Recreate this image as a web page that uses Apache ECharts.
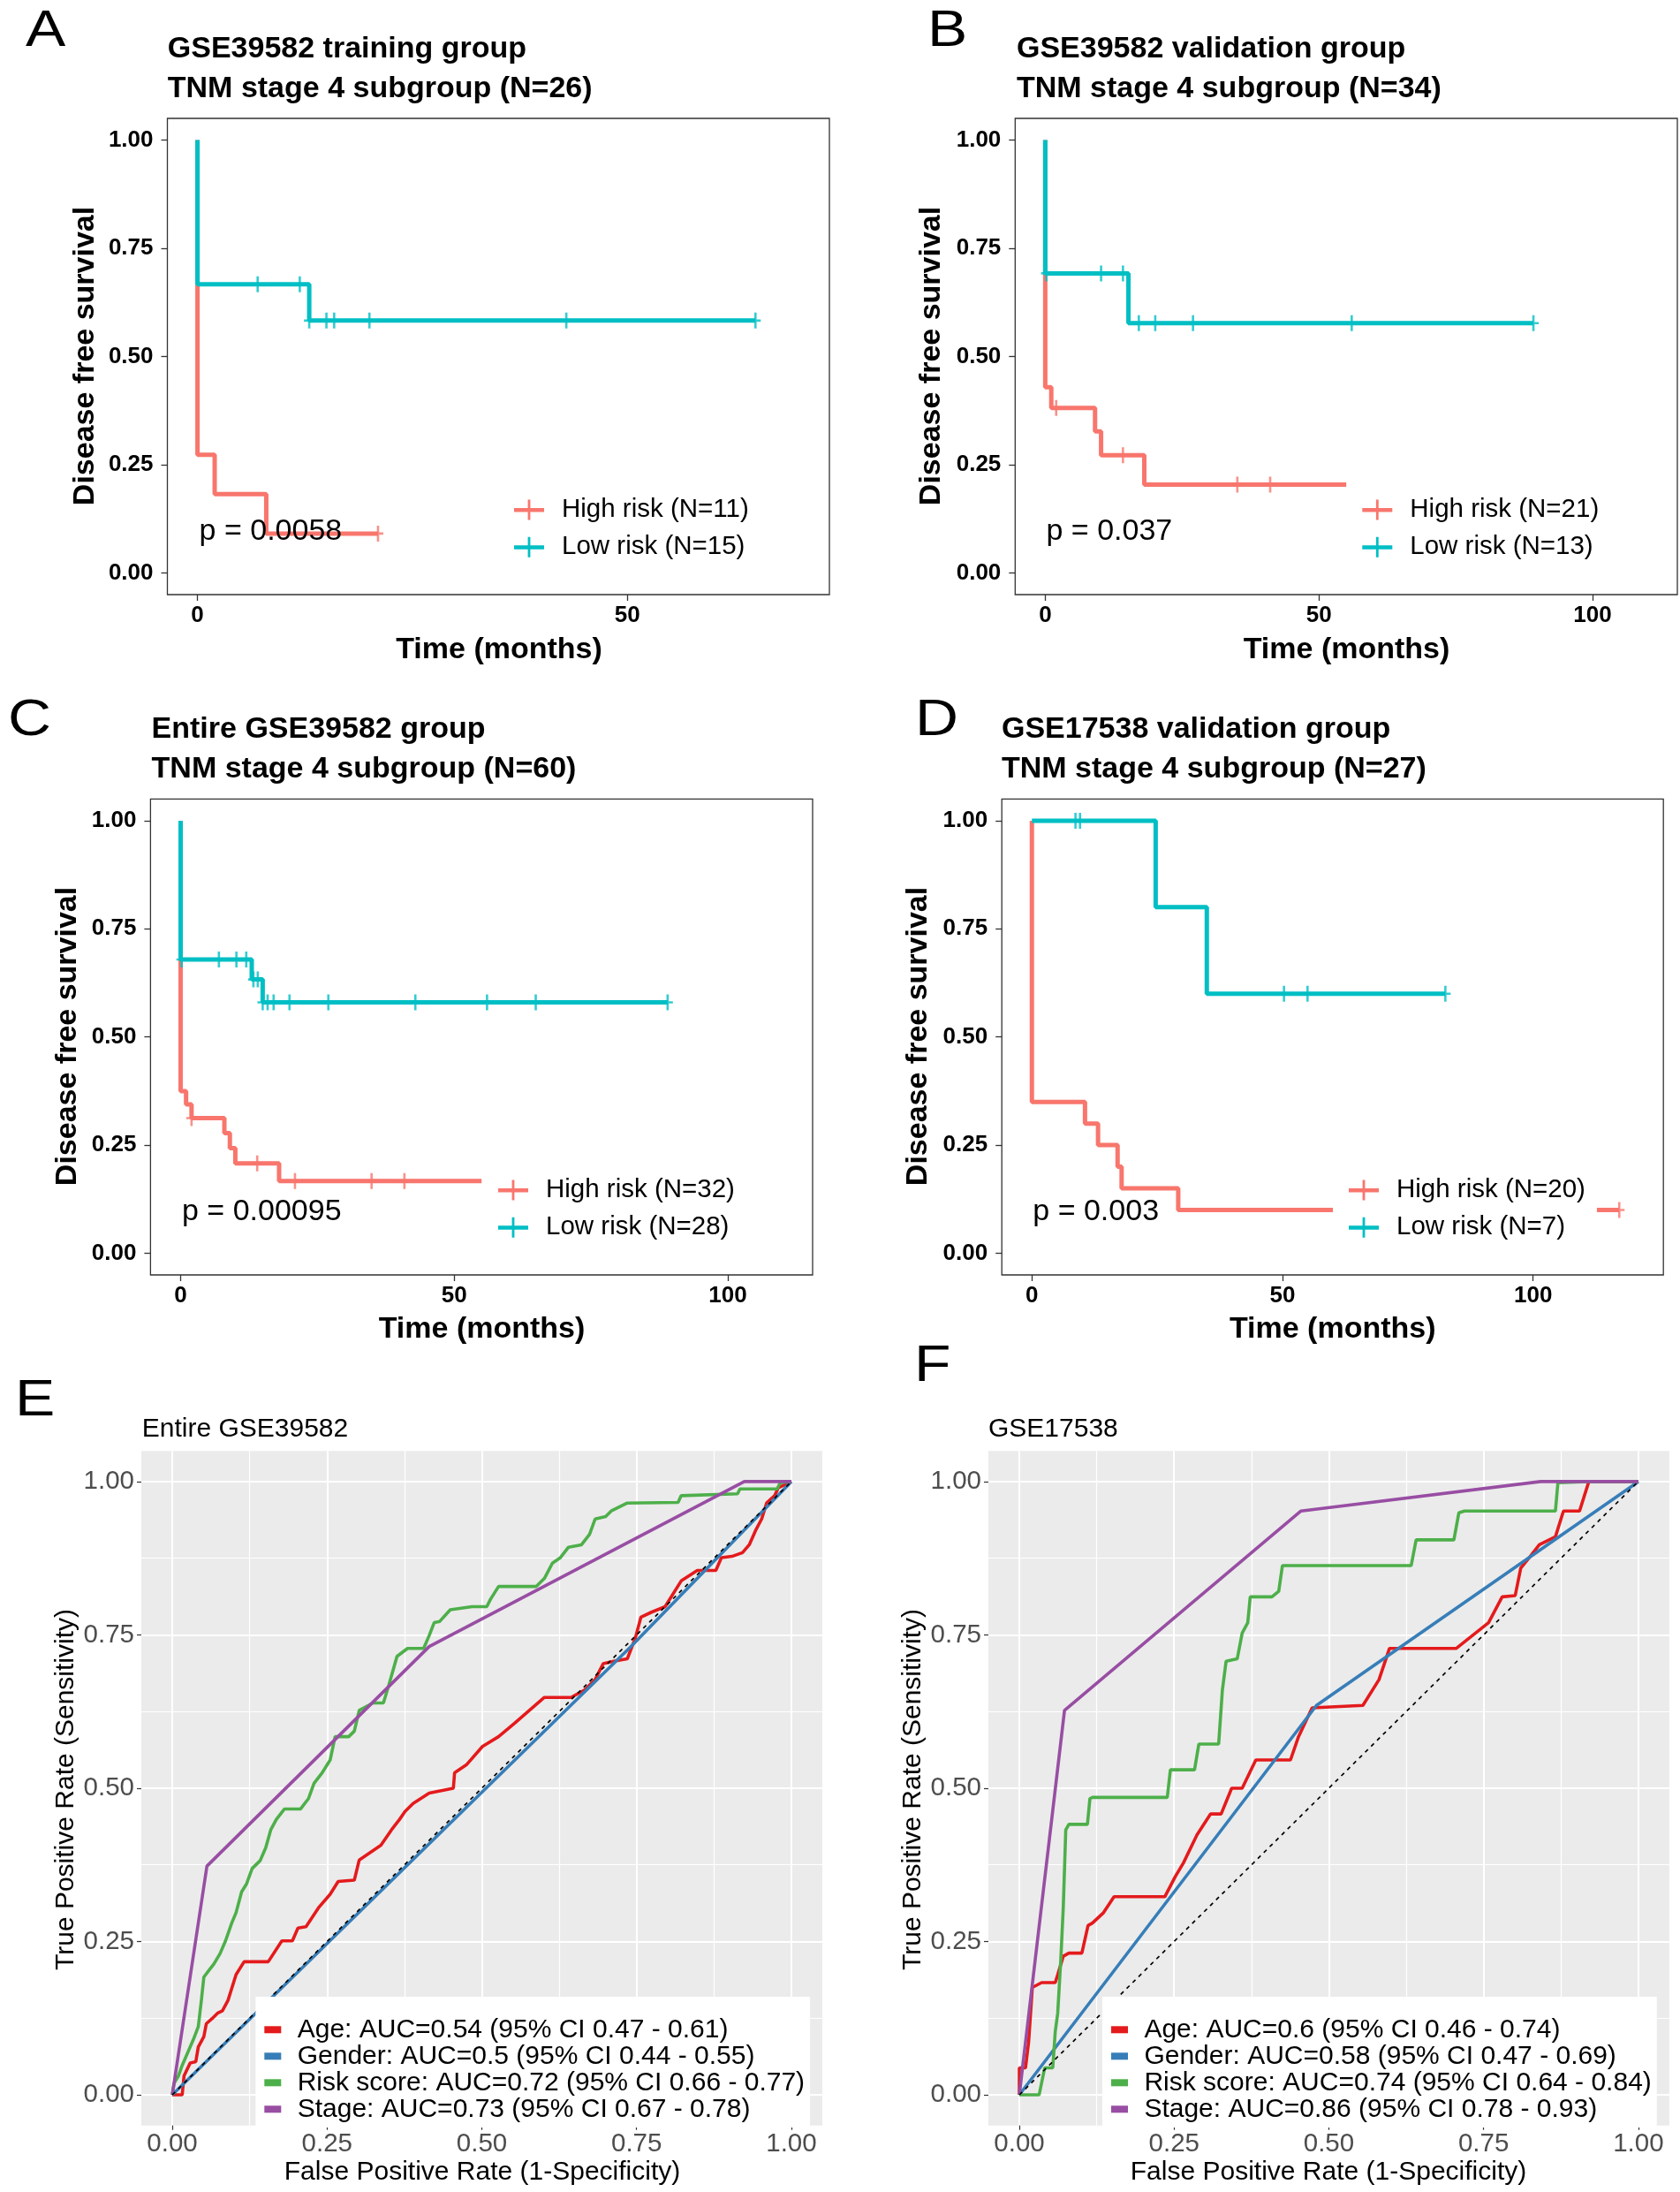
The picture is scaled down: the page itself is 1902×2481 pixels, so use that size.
<!DOCTYPE html>
<html><head><meta charset="utf-8">
<script src="https://cdn.jsdelivr.net/npm/echarts@6/dist/echarts.min.js"></script>
<style>html,body{margin:0;padding:0;background:#fff}#c{width:1902px;height:2481px}</style>
</head><body><div id="c"></div>
<script>
// ================= DATA =================
const kmTicksY = [0, 0.25, 0.5, 0.75, 1];
const kmTicksX_A = [0, 50];
const kmTicksX_BCD = [0, 50, 100];
const rocTicks = [0, 0.25, 0.5, 0.75, 1];
const rocMinorTicks = [0.125, 0.375, 0.625, 0.875];

// --- Panel A: GSE39582 training group ---
const A_names = ['High risk (N=11)', 'Low risk (N=15)'];
const A_high = [[0, 1], [0, 0.273], [2.0, 0.182], [8.0, 0.091], [21.0, 0.091]];
const A_high_cens = [[21.0, 0.091]];
const A_low = [[0, 1], [0, 0.667], [13.0, 0.583], [64.9, 0.583]];
const A_low_cens = [[7.0, 0.667], [11.9, 0.667], [13.0, 0.583], [15.0, 0.583], [15.9, 0.583], [20.0, 0.583], [42.9, 0.583], [64.9, 0.583]];

// --- Panel B: GSE39582 validation group ---
const B_names = ['High risk (N=21)', 'Low risk (N=13)'];
const B_high = [[0, 1], [0, 0.429], [1.1, 0.381], [9.1, 0.327], [10.2, 0.272], [18.1, 0.204], [55.0, 0.204]];
const B_high_cens = [[2.0, 0.381], [14.2, 0.272], [35.1, 0.204], [41.1, 0.204]];
const B_low = [[0, 1], [0, 0.692], [15.2, 0.577], [89.2, 0.577]];
const B_low_cens = [[0.2, 0.692], [10.2, 0.692], [14.2, 0.692], [17.1, 0.577], [20.1, 0.577], [27.0, 0.577], [56.0, 0.577], [89.2, 0.577]];

// --- Panel C: Entire GSE39582 group ---
const C_names = ['High risk (N=32)', 'Low risk (N=28)'];
const C_high = [[0, 1], [0, 0.375], [1.0, 0.344], [2.0, 0.3125], [8.0, 0.278], [9.0, 0.243], [10.0, 0.208], [18.0, 0.167], [55.0, 0.167]];
const C_high_cens = [[2.0, 0.3125], [14.0, 0.208], [20.9, 0.167], [34.9, 0.167], [40.9, 0.167]];
const C_low = [[0, 1], [0, 0.679], [13.0, 0.633], [15.0, 0.580], [89.0, 0.580]];
const C_low_cens = [[0.2, 0.679], [7.0, 0.679], [10.2, 0.679], [12.0, 0.679], [13.3, 0.633], [14.1, 0.633], [15.0, 0.580], [15.9, 0.580], [17.0, 0.580], [19.9, 0.580], [27.0, 0.580], [42.9, 0.580], [56.0, 0.580], [64.9, 0.580], [89.0, 0.580]];

// --- Panel D: GSE17538 validation group ---
const D_names = ['High risk (N=20)', 'Low risk (N=7)'];
const D_high = [[0, 1], [0, 0.35], [10.6, 0.30], [13.2, 0.25], [17.1, 0.20], [17.9, 0.15], [29.2, 0.10], [117.2, 0.10]];
const D_high_cens = [[117.2, 0.10]];
const D_low = [[0, 1], [24.7, 0.8], [34.9, 0.6], [82.5, 0.6]];
const D_low_cens = [[8.7, 1], [9.6, 1], [50.3, 0.6], [55.0, 0.6], [82.5, 0.6]];

// --- Panel E: ROC Entire GSE39582 ---
const E_names = ['Age: AUC=0.54 (95% CI 0.47 - 0.61)', 'Gender: AUC=0.5 (95% CI 0.44 - 0.55)', 'Risk score: AUC=0.72 (95% CI 0.66 - 0.77)', 'Stage: AUC=0.73 (95% CI 0.67 - 0.78)'];
const E_age = [[0,0],[0.016,0],[0.019,0.031],[0.029,0.052],[0.038,0.054],[0.042,0.078],[0.051,0.095],[0.055,0.116],[0.064,0.124],[0.073,0.133],[0.081,0.137],[0.090,0.154],[0.103,0.196],[0.116,0.217],[0.155,0.217],[0.177,0.251],[0.194,0.251],[0.203,0.272],[0.216,0.274],[0.237,0.306],[0.255,0.327],[0.268,0.348],[0.294,0.350],[0.302,0.383],[0.337,0.407],[0.354,0.432],[0.367,0.449],[0.376,0.462],[0.389,0.475],[0.415,0.492],[0.454,0.500],[0.456,0.525],[0.475,0.538],[0.501,0.568],[0.527,0.584],[0.553,0.606],[0.601,0.648],[0.644,0.648],[0.666,0.660],[0.683,0.677],[0.696,0.703],[0.713,0.707],[0.735,0.711],[0.748,0.745],[0.757,0.779],[0.774,0.787],[0.796,0.796],[0.822,0.838],[0.848,0.855],[0.878,0.855],[0.887,0.876],[0.904,0.878],[0.921,0.884],[0.932,0.897],[0.943,0.922],[0.952,0.939],[0.960,0.965],[0.973,0.977],[0.979,0.990],[1,1]];
const E_gender = [[0,0],[0.74,0.73],[1,1]];
const E_risk = [[0,0],[0.003,0.019],[0.010,0.031],[0.016,0.048],[0.025,0.069],[0.034,0.090],[0.042,0.111],[0.047,0.154],[0.051,0.192],[0.060,0.204],[0.067,0.213],[0.077,0.230],[0.086,0.251],[0.096,0.280],[0.103,0.297],[0.112,0.331],[0.120,0.344],[0.129,0.369],[0.142,0.382],[0.151,0.403],[0.159,0.432],[0.168,0.449],[0.181,0.466],[0.207,0.466],[0.220,0.483],[0.229,0.508],[0.242,0.525],[0.255,0.546],[0.263,0.584],[0.285,0.584],[0.294,0.593],[0.302,0.627],[0.324,0.639],[0.341,0.639],[0.350,0.669],[0.363,0.715],[0.380,0.728],[0.406,0.728],[0.415,0.749],[0.423,0.770],[0.432,0.772],[0.449,0.791],[0.484,0.796],[0.508,0.796],[0.514,0.808],[0.527,0.829],[0.588,0.829],[0.601,0.842],[0.614,0.867],[0.627,0.876],[0.640,0.893],[0.661,0.897],[0.674,0.914],[0.683,0.939],[0.700,0.943],[0.709,0.952],[0.735,0.965],[0.817,0.966],[0.822,0.977],[0.913,0.980],[0.917,0.988],[0.977,0.988],[0.982,0.998],[1,1]];
const E_stage = [[0,0],[0.056,0.373],[0.415,0.731],[0.924,1],[1,1]];

// --- Panel F: ROC GSE17538 ---
const F_names = ['Age: AUC=0.6 (95% CI 0.46 - 0.74)', 'Gender: AUC=0.58 (95% CI 0.47 - 0.69)', 'Risk score: AUC=0.74 (95% CI 0.64 - 0.84)', 'Stage: AUC=0.86 (95% CI 0.78 - 0.93)'];
const F_age = [[0,0],[0,0.044],[0.010,0.044],[0.015,0.086],[0.021,0.175],[0.036,0.183],[0.058,0.183],[0.062,0.196],[0.071,0.226],[0.080,0.231],[0.101,0.231],[0.111,0.276],[0.118,0.280],[0.136,0.297],[0.153,0.323],[0.235,0.323],[0.252,0.356],[0.265,0.378],[0.287,0.424],[0.309,0.458],[0.326,0.458],[0.343,0.500],[0.360,0.500],[0.382,0.546],[0.438,0.546],[0.451,0.584],[0.473,0.631],[0.555,0.635],[0.581,0.677],[0.598,0.728],[0.706,0.728],[0.758,0.770],[0.780,0.812],[0.801,0.814],[0.810,0.859],[0.827,0.880],[0.840,0.897],[0.866,0.910],[0.879,0.952],[0.905,0.952],[0.920,1],[1,1]];
const F_gender = [[0,0],[0.480,0.635],[1,1]];
const F_risk = [[0,0],[0.032,0],[0.041,0.044],[0.054,0.044],[0.058,0.103],[0.062,0.133],[0.067,0.221],[0.071,0.306],[0.075,0.432],[0.080,0.441],[0.110,0.441],[0.114,0.483],[0.118,0.485],[0.239,0.485],[0.244,0.530],[0.283,0.530],[0.290,0.572],[0.322,0.572],[0.328,0.660],[0.334,0.707],[0.352,0.711],[0.360,0.753],[0.369,0.770],[0.373,0.812],[0.408,0.812],[0.419,0.821],[0.425,0.863],[0.633,0.863],[0.641,0.905],[0.702,0.905],[0.710,0.949],[0.719,0.952],[0.866,0.952],[0.870,0.998],[0.918,1],[1,1]];
const F_stage = [[0,0],[0.073,0.627],[0.455,0.952],[0.842,1],[1,1]];
const diagonal = [[0,0],[1,1]];

// ================= STYLE =================
const FF = "'Liberation Sans', Arial, Helvetica, sans-serif";
const RED = '#F8766D', TEAL = '#00BFC4';
const ROC_COLORS = ['#E41A1C', '#377EB8', '#4DAF4A', '#984EA3'];
const KM_ICON = 'path://M0,9.5H34V14H0Z M15.6,0H18.4V23H15.6Z';
const CENSOR = 'path://M-1.3,-9H1.3V9H-1.3Z M-6,-1.3H6V1.3H-6Z';

const grids = [
  {left: 189.5, top: 134, width: 749.5, height: 539},
  {left: 1149.3, top: 134, width: 749.7, height: 539},
  {left: 170.4, top: 904.4, width: 749.6, height: 538.6},
  {left: 1134.2, top: 904.4, width: 749, height: 538.6},
  {left: 160, top: 1642.2, width: 771, height: 763.5},
  {left: 1119, top: 1642.2, width: 770.9, height: 763.5}
].map((g, i) => Object.assign(g, i < 4
  ? {show: true, borderColor: '#333', borderWidth: 1.3, backgroundColor: '#fff', outerBoundsMode: 'none'}
  : {show: true, borderWidth: 0, backgroundColor: '#EBEBEB', outerBoundsMode: 'none'}));

function kmX(gi, min, max, ticks) {
  return {type: 'value', gridIndex: gi, min, max, position: 'bottom',
    axisLine: {show: false, onZero: false},
    axisTick: {show: true, inside: false, length: 7, customValues: ticks, lineStyle: {color: '#333', width: 1.3}},
    axisLabel: {customValues: ticks, margin: 11, color: '#000', fontSize: 26, fontWeight: 'bold', fontFamily: FF},
    splitLine: {show: false}};
}
function kmY(gi) {
  return {type: 'value', gridIndex: gi, min: -0.05, max: 1.05, position: 'left',
    axisLine: {show: false, onZero: false},
    axisTick: {show: true, inside: false, length: 7, customValues: kmTicksY, lineStyle: {color: '#333', width: 1.3}},
    axisLabel: {customValues: kmTicksY, margin: 16, color: '#000', fontSize: 26, fontWeight: 'bold', fontFamily: FF,
      formatter: v => v.toFixed(2)},
    splitLine: {show: false}};
}
function rocAxis(gi, pos) {
  return {type: 'value', gridIndex: gi, min: -0.05, max: 1.05, position: pos,
    axisLine: {show: false, onZero: false},
    axisTick: {show: true, inside: false, length: 5, customValues: rocTicks, lineStyle: {color: '#333', width: 1.2}},
    axisLabel: {customValues: rocTicks, margin: pos === 'left' ? 8 : 6, color: '#4D4D4D', fontSize: 29.5, fontFamily: FF,
      formatter: v => v.toFixed(2)},
    splitLine: {show: true, lineStyle: {color: '#fff', width: 2}}};
}
function rocMinor(gi, pos) {
  return {type: 'value', gridIndex: gi, min: -0.05, max: 1.05, position: pos,
    axisLine: {show: false, onZero: false},
    axisTick: {show: false, customValues: rocMinorTicks},
    axisLabel: {show: false, customValues: rocMinorTicks},
    splitLine: {show: true, lineStyle: {color: '#fff', width: 1.2}}};
}

const xAxis = [
  kmX(0, -3.5, 73.5, kmTicksX_A),
  kmX(1, -5.5, 115.5, kmTicksX_BCD),
  kmX(2, -5.5, 115.5, kmTicksX_BCD),
  kmX(3, -6, 126, kmTicksX_BCD),
  rocAxis(4, 'bottom'), rocAxis(5, 'bottom'),
  rocMinor(4, 'top'), rocMinor(5, 'top')
];
const yAxis = [kmY(0), kmY(1), kmY(2), kmY(3),
  rocAxis(4, 'left'), rocAxis(5, 'left'),
  rocMinor(4, 'right'), rocMinor(5, 'right')];

const series = [];
function addKM(gi, names, high, highC, low, lowC) {
  [[names[0], high, highC, RED], [names[1], low, lowC, TEAL]].forEach(([nm, curve, cens, col]) => {
    series.push({type: 'line', name: nm, xAxisIndex: gi, yAxisIndex: gi, step: 'end', data: curve,
      symbol: 'none', showSymbol: false, color: col, lineStyle: {width: 5, color: col}, itemStyle: {color: col}, z: 2});
    series.push({type: 'scatter', name: nm + ' censor', xAxisIndex: gi, yAxisIndex: gi, data: cens,
      symbol: CENSOR, symbolSize: [12, 18], itemStyle: {color: col}, silent: true, z: 3});
  });
}
addKM(0, A_names, A_high, A_high_cens, A_low, A_low_cens);
addKM(1, B_names, B_high, B_high_cens, B_low, B_low_cens);
addKM(2, C_names, C_high, C_high_cens, C_low, C_low_cens);
addKM(3, D_names, D_high, D_high_cens, D_low, D_low_cens);

function addROC(gi, names, curves) {
  curves.forEach((c, i) => {
    series.push({type: 'line', name: names[i], xAxisIndex: gi, yAxisIndex: gi, data: c, symbol: 'none',
      showSymbol: false, color: ROC_COLORS[i], lineStyle: {width: 3.6, color: ROC_COLORS[i]}, itemStyle: {color: ROC_COLORS[i]}, z: 2});
  });
  series.push({type: 'line', name: 'diag' + gi, xAxisIndex: gi, yAxisIndex: gi, data: diagonal, symbol: 'none',
    lineStyle: {width: 1.7, color: '#000', type: [4.5, 5]}, z: 3, silent: true});
}
addROC(4, E_names, [E_age, E_gender, E_risk, E_stage]);
addROC(5, F_names, [F_age, F_gender, F_risk, F_stage]);

function kmLegend(names, left, top) {
  return {data: names.map(n => ({name: n, icon: KM_ICON})), orient: 'vertical', left, top,
    itemWidth: 34, itemHeight: 23, itemGap: 12.3, padding: [10, 13, 10, 18], backgroundColor: '#fff',
    selectedMode: false, itemStyle: {borderWidth: 0},
    textStyle: {fontSize: 29.5, fontFamily: FF, color: '#000', lineHeight: 30, padding: [0, 0, 0, 15]}};
}
function rocLegend(names, left, top) {
  return {data: names.map(n => ({name: n, icon: 'rect'})), orient: 'vertical', left, top,
    itemWidth: 19, itemHeight: 8, itemGap: 0, padding: [22.3, 6, 5.8, 10], backgroundColor: '#fff',
    selectedMode: false, itemStyle: {borderWidth: 0},
    textStyle: {fontSize: 30, fontFamily: FF, color: '#000', lineHeight: 29.4, padding: [0, 0, 0, 13.4]}};
}
const legend = [
  kmLegend(A_names, 564, 552), kmLegend(B_names, 1524.3, 552),
  kmLegend(C_names, 546, 1322), kmLegend(D_names, 1509, 1322),
  rocLegend(E_names, 289.3, 2260), rocLegend(F_names, 1248, 2260)
];

function txt(x, y, text, size, weight, align, extra) {
  return Object.assign({type: 'text', x, y, z: 100, silent: true,
    style: {text, fontSize: size, fontWeight: weight || 'normal', fontFamily: FF, fill: '#000',
      align: align || 'left', verticalAlign: 'middle'}}, extra || {});
}
const ROT = {rotation: Math.PI / 2};
const WIDE = {scaleX: 1.17};
const graphic = [
  // panel letters
  txt(29, 36, 'A', 58, 'normal', 'left', WIDE), txt(1050, 36, 'B', 58, 'normal', 'left', WIDE),
  txt(9, 816, 'C', 58, 'normal', 'left', WIDE), txt(1036, 816, 'D', 58, 'normal', 'left', WIDE),
  txt(17, 1586, 'E', 58, 'normal', 'left', WIDE), txt(1035, 1547, 'F', 58, 'normal', 'left', WIDE),
  // KM titles
  txt(189.8, 56, 'GSE39582 training group', 34, 'bold'), txt(189.8, 101, 'TNM stage 4 subgroup (N=26)', 34, 'bold'),
  txt(1151, 56, 'GSE39582 validation group', 34, 'bold'), txt(1151, 101, 'TNM stage 4 subgroup (N=34)', 34, 'bold'),
  txt(171.6, 826, 'Entire GSE39582 group', 34, 'bold'), txt(171.6, 871, 'TNM stage 4 subgroup (N=60)', 34, 'bold'),
  txt(1134, 826, 'GSE17538 validation group', 34, 'bold'), txt(1134, 871, 'TNM stage 4 subgroup (N=27)', 34, 'bold'),
  // KM axis titles
  txt(97, 403, 'Disease free survival', 34, 'bold', 'center', ROT),
  txt(1055, 403, 'Disease free survival', 34, 'bold', 'center', ROT),
  txt(77, 1173, 'Disease free survival', 34, 'bold', 'center', ROT),
  txt(1040, 1173, 'Disease free survival', 34, 'bold', 'center', ROT),
  txt(565, 736, 'Time (months)', 34, 'bold', 'center'),
  txt(1524.5, 736, 'Time (months)', 34, 'bold', 'center'),
  txt(545.5, 1505, 'Time (months)', 34, 'bold', 'center'),
  txt(1508.7, 1505, 'Time (months)', 34, 'bold', 'center'),
  // p values
  txt(225.6, 602, 'p = 0.0058', 34), txt(1184.5, 602, 'p = 0.037', 34),
  txt(206, 1372, 'p = 0.00095', 34), txt(1169.3, 1372, 'p = 0.003', 34),
  // ROC titles
  txt(160.7, 1617.6, 'Entire GSE39582', 30), txt(1119, 1617.6, 'GSE17538', 30),
  txt(546, 2458.6, 'False Positive Rate (1-Specificity)', 30, 'normal', 'center'),
  txt(1504, 2458.6, 'False Positive Rate (1-Specificity)', 30, 'normal', 'center'),
  txt(75, 2025.5, 'True Positive Rate (Sensitivity)', 30, 'normal', 'center', ROT),
  txt(1034, 2025.5, 'True Positive Rate (Sensitivity)', 30, 'normal', 'center', ROT)
];

const chart = echarts.init(document.getElementById('c'), null, {renderer: 'canvas', width: 1902, height: 2481});
chart.setOption({
  animation: false,
  backgroundColor: '#fff',
  textStyle: {fontFamily: FF},
  grid: grids, xAxis, yAxis, series, legend, graphic,
  tooltip: {show: false}
});
</script></body></html>
